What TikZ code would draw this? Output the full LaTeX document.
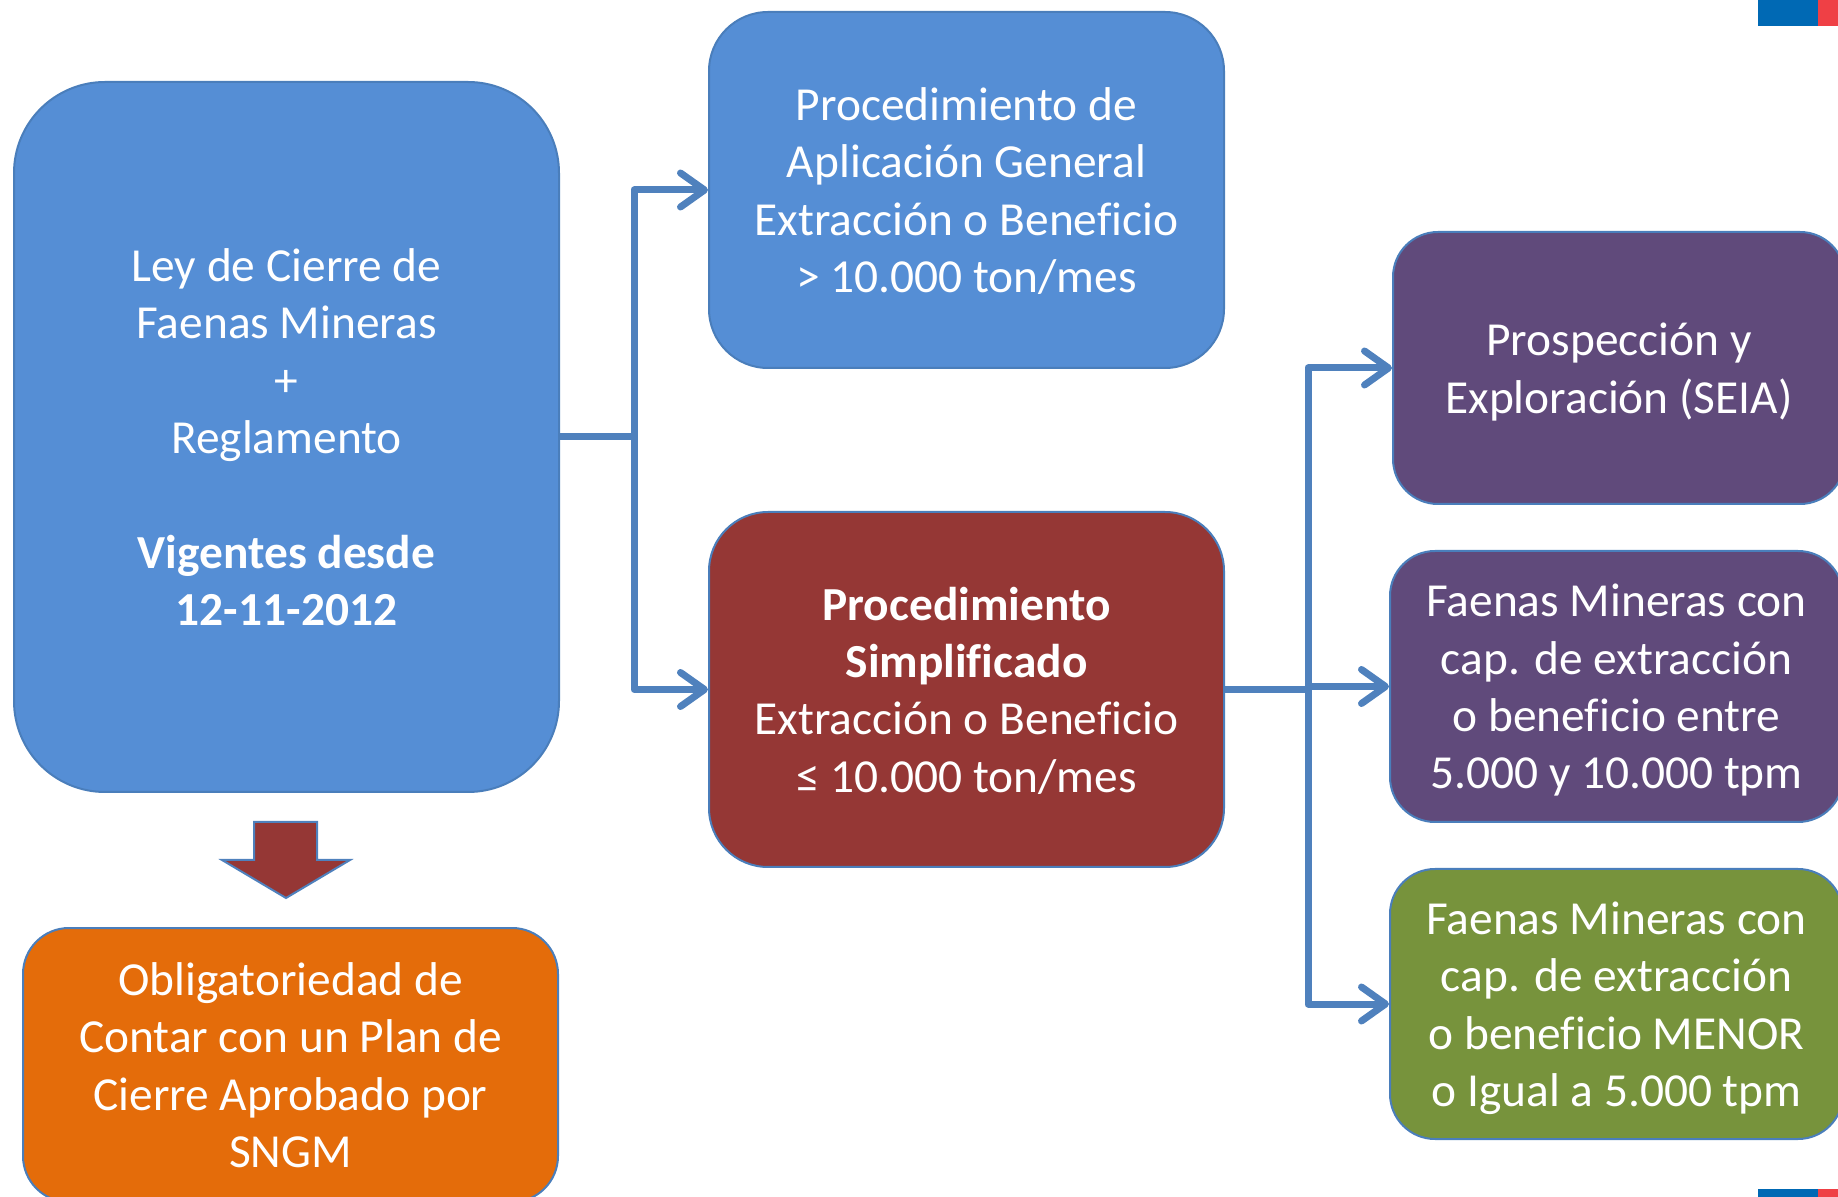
\documentclass[tikz,border=0pt]{standalone}
\usepackage{fontspec}
\setmainfont{Carlito}[Ligatures=CommonOff]
\usepackage{tikz}
\usetikzlibrary{arrows.meta, positioning}
\definecolor{boxline}{HTML}{4A7EBB}
\definecolor{linkblue}{HTML}{4F81BD}
\definecolor{leyblue}{HTML}{558ED5}
\definecolor{simpred}{HTML}{953735}
\definecolor{prospurple}{HTML}{604A7B}
\definecolor{menorgreen}{HTML}{77933C}
\definecolor{oblorange}{HTML}{E46C0A}
\definecolor{flagblue}{HTML}{0069B4}
\definecolor{flagred}{HTML}{EF4045}

\begin{document}
\begin{tikzpicture}[x=0.5pt, y=-0.5pt,
    box/.style={draw=boxline, line width=1pt, text=white, align=center, inner sep=0pt,
        text depth=0pt, font=\fontsize{23.7pt}{28.7pt}\selectfont},
    link/.style={draw=linkblue, line width=3.5pt, line join=round,
        -{Straight Barb[length=12pt,width=17pt,round]}},
    trunk/.style={draw=linkblue, line width=3.5pt, line join=round}]
        \useasboundingbox (0,0) rectangle (1838,1197);
        \clip (0,0) rectangle (1838,1197);

        \node[box, fill=leyblue, minimum width=272.5pt, minimum height=355pt, rounded corners=45.5pt] (ley) at (286.5,437)
            {Ley de Cierre de\\Faenas Mineras\\+\\Reglamento\\[28.7pt]\textbf{Vigentes desde}\\\textbf{12-11-2012}};
        \node[box, fill=leyblue, minimum width=257.5pt, minimum height=178pt, rounded corners=29.5pt] (gen) at (966.5,190)
            {Procedimiento de\\Aplicación General\\Extracción o Beneficio\\> 10.000 ton/mes};
        \node[box, fill=simpred, minimum width=257.5pt, minimum height=177.5pt, rounded corners=29.5pt] (simp) at (966.5,689.5)
            {\textbf{Procedimiento}\\\textbf{Simplificado}\\Extracción o Beneficio\\≤ 10.000 ton/mes};
        \node[box, fill=prospurple, minimum width=226pt, minimum height=136pt, rounded corners=22.5pt] (pros) at (1619,368)
            {Prospección y\\Exploración (SEIA)};
        \node[box, fill=prospurple, minimum width=226.5pt, minimum height=135.5pt, rounded corners=22.5pt] (med) at (1616.5,686.5)
            {Faenas Mineras con\\cap. de extracción\\o beneficio entre\\5.000 y 10.000 tpm};
        \node[box, fill=menorgreen, minimum width=226.5pt, minimum height=135pt, rounded corners=22.5pt] (men) at (1616.5,1004)
            {Faenas Mineras con\\cap. de extracción\\o beneficio MENOR\\o Igual a 5.000 tpm};
        \node[box, fill=oblorange, minimum width=267.5pt, minimum height=137pt, rounded corners=23pt] (obl) at (290.5,1065)
            {Obligatoriedad de\\Contar con un Plan de\\Cierre Aprobado por\\SNGM};

        \path (ley.east) ++(74,0) coordinate (s1);
        \path (simp.east) ++(83,0) coordinate (s2);
        \draw[trunk] (ley.east) -- (s1);
        \foreach \dest in {gen,simp} \draw[link] (s1) |- (\dest.west);
        \draw[trunk] (simp.east) -- (s2);
        \foreach \dest in {pros,med,men} \draw[link] (s2) |- (\dest.west);

        \draw[fill=simpred, draw=linkblue, line width=1pt]
            (254,822) -- (317,822) -- (317,860) -- (350,860) -- (286,898) -- (222,860) -- (254,860) -- cycle;

        \fill[flagblue] (1758,0) rectangle (1818,26);
        \fill[flagred] (1818,0) rectangle (1838,26);
        \fill[flagblue] (1758,1189) rectangle (1818,1197);
        \fill[flagred] (1818,1189) rectangle (1838,1197);
        \end{tikzpicture}
\end{document}
